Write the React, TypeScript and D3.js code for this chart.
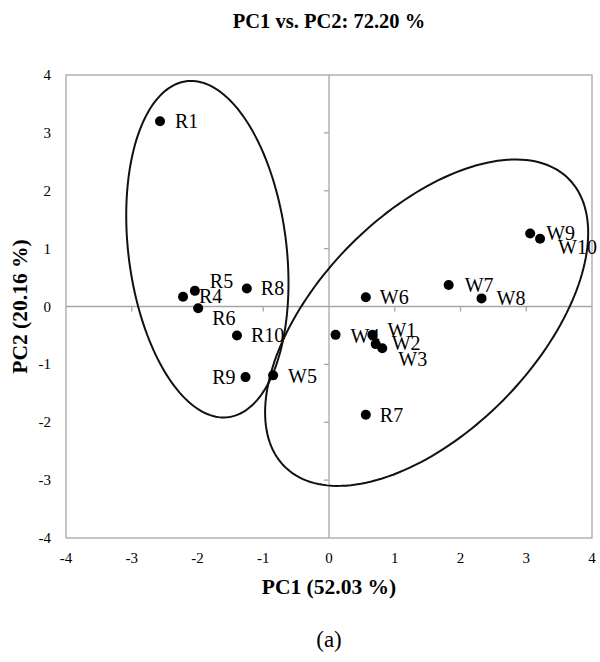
import React from "react"
import * as d3 from "d3"

// PCA scores (PC1, PC2) per sample
const sampleNames = ["R1", "R4", "R5", "R6", "R8", "R9", "R10", "W5", "W4", "W1", "W2", "W3", "W6", "W7", "W8", "W9", "W10", "R7"]
const pc1Scores = [-2.57, -2.22, -2.04, -1.99, -1.25, -1.27, -1.4, -0.85, 0.1, 0.66, 0.71, 0.81, 0.56, 1.82, 2.32, 3.06, 3.21, 0.56]
const pc2Scores = [3.2, 0.17, 0.27, -0.03, 0.31, -1.22, -0.5, -1.19, -0.49, -0.49, -0.65, -0.72, 0.16, 0.37, 0.14, 1.26, 1.17, -1.87]

// group ellipses: centre, half extents, correlation (data units)
const ellipseCx = [-1.85, 1.485]
const ellipseCy = [0.99, -0.28]
const ellipseSx = [1.234, 2.457]
const ellipseSy = [2.907, 2.82]
const ellipseRho = [-0.2, 0.55]

const tickValues = [-4, -3, -2, -1, 0, 1, 2, 3, 4]

const titleText = "PC1 vs. PC2: 72.20 %"
const xTitle = "PC1 (52.03 %)"
const yTitle = "PC2 (20.16 %)"
const captionText = "(a)"

// label placement relative to its dot (px)
const labelShift: Record<string, [number, number, string]> = {
  R1: [15, 7, "start"],
  R4: [16, 6, "start"],
  R5: [15, -3, "start"],
  R6: [14, 17, "start"],
  R8: [14, 6, "start"],
  R9: [-10, 7, "end"],
  R10: [14, 7, "start"],
  W5: [15, 8, "start"],
  W4: [15, 8, "start"],
  W1: [15, 2, "start"],
  W2: [16, 6, "start"],
  W3: [16, 18, "start"],
  W6: [14, 7, "start"],
  W7: [16, 7, "start"],
  W8: [15, 7, "start"],
  W9: [16, 6, "start"],
  W10: [18, 15, "start"],
  R7: [14, 7, "start"],
}

const FONT = "'Liberation Serif', 'Times New Roman', serif"

export default function App() {
  const ref = React.useRef<SVGSVGElement>(null)

  React.useEffect(() => {
    const width = 600
    const height = 662
    const margin = { top: 75, right: 8, bottom: 124, left: 66 }

    const x = d3.scaleLinear().domain([-4, 4]).range([margin.left, width - margin.right])
    const y = d3.scaleLinear().domain([-4, 4]).range([height - margin.bottom, margin.top])

    const svg = d3.select(ref.current)
    svg.selectAll("*").remove()
    svg.attr("width", width).attr("height", height)

    const grey = "#a6a6a6"

    // plot frame
    svg.append("rect")
      .attr("x", x(-4)).attr("y", y(4))
      .attr("width", x(4) - x(-4)).attr("height", y(-4) - y(4))
      .attr("fill", "none").attr("stroke", grey).attr("stroke-width", 1.3)

    // zero lines
    svg.append("line")
      .attr("x1", x(-4)).attr("x2", x(4)).attr("y1", y(0)).attr("y2", y(0))
      .attr("stroke", grey).attr("stroke-width", 1.3)
    svg.append("line")
      .attr("x1", x(0)).attr("x2", x(0)).attr("y1", y(-4)).attr("y2", y(4))
      .attr("stroke", grey).attr("stroke-width", 1.3)

    // ticks on zero lines
    svg.append("g").selectAll("line")
      .data(tickValues.filter((t) => t > -4 && t < 4 && t !== 0))
      .join("line")
      .attr("x1", (d) => x(d)).attr("x2", (d) => x(d))
      .attr("y1", y(0)).attr("y2", y(0) + 5)
      .attr("stroke", grey).attr("stroke-width", 1.3)
    svg.append("g").selectAll("line")
      .data(tickValues.filter((t) => t > -4 && t < 4 && t !== 0))
      .join("line")
      .attr("x1", x(0) - 5).attr("x2", x(0))
      .attr("y1", (d) => y(d)).attr("y2", (d) => y(d))
      .attr("stroke", grey).attr("stroke-width", 1.3)

    // tick labels
    svg.append("g").selectAll("text")
      .data(tickValues)
      .join("text")
      .attr("x", (d) => x(d))
      .attr("y", y(-4) + 25)
      .attr("text-anchor", "middle")
      .attr("font-family", FONT)
      .attr("font-size", 15)
      .text((d) => d)
    svg.append("g").selectAll("text")
      .data(tickValues)
      .join("text")
      .attr("x", 51)
      .attr("y", (d) => y(d) + 5)
      .attr("text-anchor", "end")
      .attr("font-family", FONT)
      .attr("font-size", 15)
      .text((d) => d)

    // ellipses
    const steps = d3.range(0, 361, 2).map((a) => (a * Math.PI) / 180)
    const line = d3.line<number[]>().x((p) => x(p[0])).y((p) => y(p[1])).curve(d3.curveLinearClosed)
    ellipseCx.forEach((cx, i) => {
      const rho = ellipseRho[i]
      const pts = steps.map((t) => [
        cx + ellipseSx[i] * Math.cos(t),
        ellipseCy[i] + ellipseSy[i] * (rho * Math.cos(t) + Math.sqrt(1 - rho * rho) * Math.sin(t)),
      ])
      svg.append("path")
        .attr("d", line(pts))
        .attr("fill", "none")
        .attr("stroke", "#111")
        .attr("stroke-width", 2)
    })

    // points
    svg.append("g").selectAll("circle")
      .data(sampleNames)
      .join("circle")
      .attr("cx", (_, i) => x(pc1Scores[i]))
      .attr("cy", (_, i) => y(pc2Scores[i]))
      .attr("r", 5)
      .attr("fill", "#000")

    svg.append("g").selectAll("text")
      .data(sampleNames)
      .join("text")
      .attr("x", (d, i) => x(pc1Scores[i]) + labelShift[d][0])
      .attr("y", (d, i) => y(pc2Scores[i]) + labelShift[d][1])
      .attr("text-anchor", (d) => labelShift[d][2])
      .attr("font-family", FONT)
      .attr("font-size", 20)
      .text((d) => d)

    // titles
    svg.append("text")
      .attr("x", x(0)).attr("y", 28)
      .attr("text-anchor", "middle")
      .attr("font-family", FONT).attr("font-weight", "bold").attr("font-size", 20.5)
      .text(titleText)
    svg.append("text")
      .attr("x", x(0)).attr("y", 594)
      .attr("text-anchor", "middle")
      .attr("font-family", FONT).attr("font-weight", "bold").attr("font-size", 21.5)
      .text(xTitle)
    svg.append("text")
      .attr("transform", `translate(27,${y(0)}) rotate(-90)`)
      .attr("text-anchor", "middle")
      .attr("font-family", FONT).attr("font-weight", "bold").attr("font-size", 21.5)
      .text(yTitle)
    svg.append("text")
      .attr("x", x(0)).attr("y", 647)
      .attr("text-anchor", "middle")
      .attr("font-family", FONT).attr("font-size", 23)
      .text(captionText)
  }, [])

  return <svg ref={ref} style={{ position: "absolute", left: 0, top: 0, background: "#fff" }} />
}
